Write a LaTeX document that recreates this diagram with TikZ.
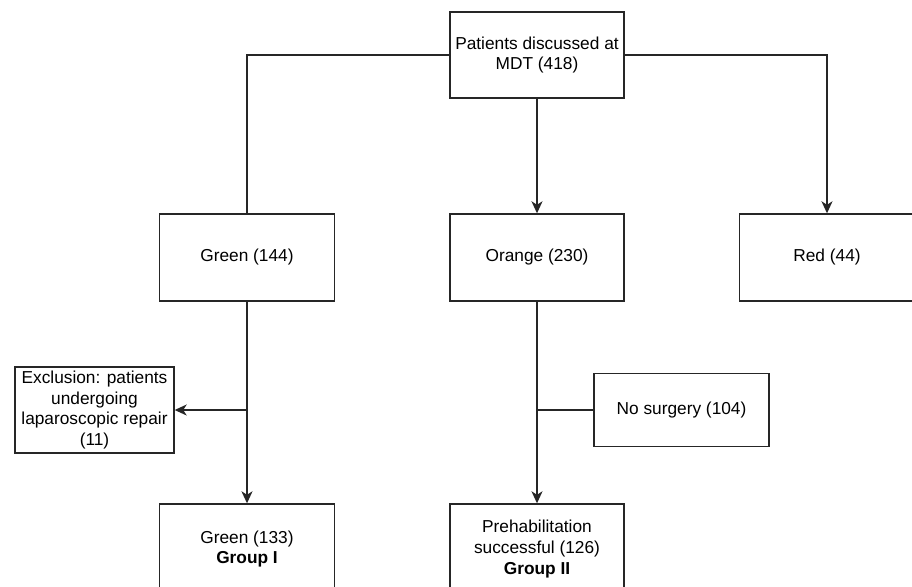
\documentclass[tikz,border=0pt]{standalone}
\usepackage{fontspec}
\setmainfont{Liberation Sans}
\usetikzlibrary{arrows.meta}
\begin{document}
\begin{tikzpicture}[x=1pt,y=-1pt,
  box/.style={draw=black!85,line width=1.4pt,fill=white,inner sep=0pt,align=center,
    font=\fontsize{17.3}{20.8}\selectfont},
  conn/.style={draw=black!85,line width=1.4pt},
  arr/.style={conn,-{Stealth[length=12pt,width=11pt,inset=3.5pt]}}]
\useasboundingbox (0,0) rectangle (912,586);
\clip (0,0) rectangle (912,586);
\fill[white] (0,0) rectangle (912,586);
\node[box,minimum width=174pt,minimum height=86pt] (top) at (537,55) {Patients discussed at\\MDT (418)};
\node[box,minimum width=175pt,minimum height=87pt] (green) at (247,257.5) {Green (144)};
\node[box,minimum width=174pt,minimum height=87pt] (orange) at (537,257.5) {Orange (230)};
\node[box,minimum width=175pt,minimum height=87pt] (red) at (827,257.5) {Red (44)};
\node[box,minimum width=159pt,minimum height=86pt] (excl) at (94.5,410) {Exclusion: patients\\undergoing\\laparoscopic repair\\(11)};
\node[box,minimum width=175pt,minimum height=73pt] (nosurg) at (681.5,410) {No surgery (104)};
\node[box,minimum width=175pt,minimum height=90pt] (g133) at (247,549) {Green (133)\\\textbf{Group I}};
\node[box,minimum width=174pt,minimum height=90pt] (prehab) at (537,549) {Prehabilitation\\successful (126)\\\textbf{Group II}};
\coordinate (gsplit) at (247,410);
\coordinate (osplit) at (537,410);
\draw[conn] (top.west) -| (green.north);
\draw[arr] (top.south) -- (orange.north);
\draw[arr] (top.east) -| (red.north);
\draw[arr] (green.south) -- (g133.north);
\draw[arr] (gsplit) -- (excl.east);
\draw[arr] (orange.south) -- (prehab.north);
\draw[conn] (nosurg.west) -- (osplit);
\end{tikzpicture}
\end{document}
